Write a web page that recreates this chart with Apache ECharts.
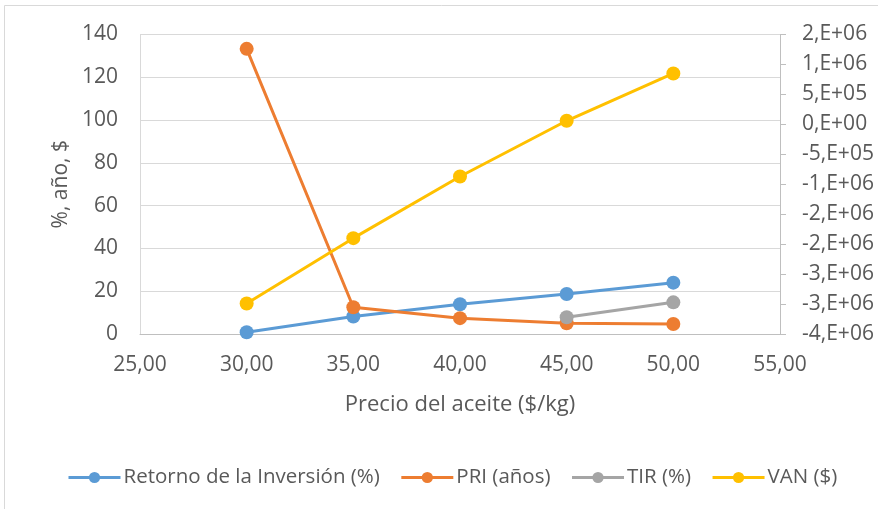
<!DOCTYPE html>
<html>
<head>
<meta charset="utf-8">
<script src="https://cdn.jsdelivr.net/npm/echarts@6/dist/echarts.min.js"></script>
<style>html,body{margin:0;padding:0;background:#fff}#c{width:878px;height:509px}</style>
</head>
<body>
<div id="c"></div>
<script>
const precios = [30, 35, 40, 45, 50];
const retorno = [0.8, 8.2, 13.9, 18.7, 24.0];
const pri = [133.3, 12.5, 7.4, 5.0, 4.7];
const tir = [null, null, null, 7.8, 14.8];
const van = [-2.99e6, -1.90e6, -0.87e6, 0.06e6, 0.85e6];

const FONT = "'Open Sans', 'Liberation Sans', sans-serif";
const TXT = '#595959';

function pairs(ys){ const out=[]; precios.forEach((x,i)=>{ if(ys[i]!==null) out.push([x,ys[i]]); }); return out; }
function sci(v){
  if (Math.abs(v) < 1e-9) return '0,E+00';
  const s = v < 0 ? '-' : '';
  const a = Math.abs(v);
  let e = Math.floor(Math.log10(a) + 1e-12);
  let m = Math.round(a / Math.pow(10, e) + 1e-9);
  if (m >= 10) { m = 1; e += 1; }
  return s + m + ',E' + (e >= 0 ? '+' : '-') + String(Math.abs(e)).padStart(2, '0');
}

const chart = echarts.init(document.getElementById('c'), null, {renderer:'canvas'});
const mk = (name, color, data, yIdx) => ({
  name, type:'line', data, yAxisIndex: yIdx,
  symbol:'circle', symbolSize:14, showSymbol:true,
  lineStyle:{color, width:3}, itemStyle:{color},
  emphasis:{disabled:true}, animation:false
});
chart.setOption({
  animation:false,
  textStyle:{fontFamily:FONT},
  graphic:[{type:'rect', shape:{x:4.5, y:5.5, width:1000, height:1000}, style:{fill:null, stroke:'#D9D9D9', lineWidth:1}, silent:true}],
  grid:{left:140, right:98, top:34.5, bottom:175},
  xAxis:{
    type:'value', min:25, max:55, interval:5,
    name:'Precio del aceite ($/kg)', nameLocation:'middle', nameGap:60,
    nameTextStyle:{fontSize:22, color:TXT, fontFamily:FONT},
    axisLine:{show:true, lineStyle:{color:'#BFBFBF', width:1}},
    axisTick:{show:false}, splitLine:{show:false},
    axisLabel:{fontSize:21, color:TXT, margin:21, formatter:v=>v.toFixed(2).replace('.',',')}
  },
  yAxis:[{
    type:'value', min:0, max:140, interval:20, position:'left',
    name:'%, año, $', nameLocation:'middle', nameGap:68, nameRotate:90,
    nameTextStyle:{fontSize:21, color:TXT, fontFamily:FONT},
    axisLine:{show:true, lineStyle:{color:'#D9D9D9'}}, axisTick:{show:false},
    splitLine:{show:true, lineStyle:{color:'#D9D9D9', width:1}},
    axisLabel:{fontSize:21, color:TXT, margin:22}
  },{
    type:'value', min:-3.5e6, max:1.5e6, interval:5e5, position:'right',
    axisLine:{show:true, lineStyle:{color:'#BFBFBF'}},
    axisTick:{show:true, inside:false, length:6, lineStyle:{color:'#BFBFBF'}},
    splitLine:{show:false},
    axisLabel:{fontSize:21, color:TXT, margin:22, formatter:sci}
  }],
  legend:{
    top:462, left:62, itemGap:20, itemWidth:52, itemHeight:14,
    lineStyle:{width:3},
    textStyle:{fontSize:20.5, color:TXT, fontFamily:FONT, padding:[0,0,0,-2]},
    data:['Retorno de la Inversión (%)','PRI (años)','TIR (%)','VAN ($)']
  },
  series:[
    mk('Retorno de la Inversión (%)', '#5B9BD5', pairs(retorno), 0),
    mk('PRI (años)', '#ED7D31', pairs(pri), 0),
    mk('TIR (%)', '#A5A5A5', pairs(tir), 0),
    mk('VAN ($)', '#FFC000', pairs(van), 1)
  ]
});
</script>
</body>
</html>
